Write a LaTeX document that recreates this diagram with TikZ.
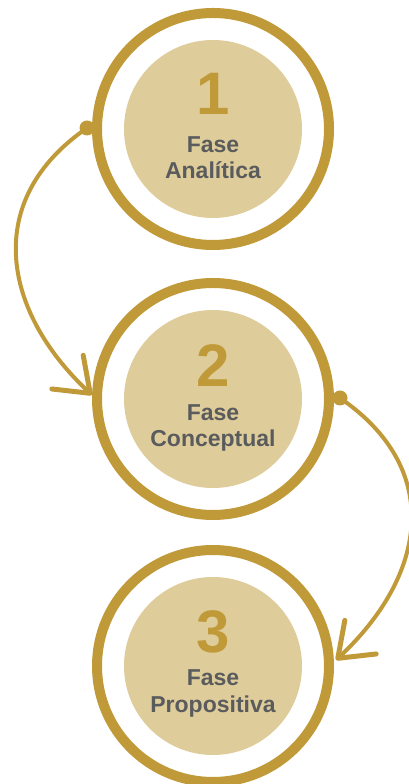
\documentclass[tikz,border=0pt]{standalone}
\usepackage{fontspec}
\setmainfont{Liberation Sans}
\usetikzlibrary{arrows.meta}
\definecolor{gold}{HTML}{C09A38}
\definecolor{beige}{HTML}{DECC9A}
\definecolor{txtgray}{HTML}{5A5B5D}
\tikzset{
  ring/.style={circle, draw=gold, line width=10pt, fill=white, minimum size=232pt, inner sep=0pt},
  disk/.style={circle, fill=beige, minimum size=178pt, inner sep=0pt},
  numtxt/.style={anchor=base, text=gold, font=\bfseries\fontsize{60}{60}\selectfont, inner sep=0pt},
  labtxt/.style={anchor=base, text=txtgray, font=\bfseries\fontsize{23}{26}\selectfont, inner sep=0pt},
  conn/.style={draw=gold, line width=4pt, -{Straight Barb[length=31pt, width=46pt, line width=5pt, round]}},
  dotst/.style={circle, fill=gold, minimum size=15pt, inner sep=0pt}
}
\begin{document}
\begin{tikzpicture}[x=1pt, y=1pt]
\useasboundingbox (0,0) rectangle (408,784);
% circles
\node[ring] (c1) at (213,655) {};
\node[disk] (d1) at (c1.center) {};
\node[ring] (c2) at (213,385) {};
\node[disk] (d2) at (c2.center) {};
\node[ring] (c3) at (213,118) {};
\node[disk] (d3) at (c3.center) {};
% texts
\node[numtxt] (n1) at ([yshift=14pt]c1.center) {1};
\node[labtxt] (a1) at ([yshift=-24pt]c1.center) {Fase};
\node[labtxt] (b1) at ([yshift=-50pt]c1.center) {Analítica};
\node[numtxt] (n2) at ([yshift=12pt]c2.center) {2};
\node[labtxt] (a2) at ([yshift=-22pt]c2.center) {Fase};
\node[labtxt] (b2) at ([yshift=-48pt]c2.center) {Conceptual};
\node[numtxt] (n3) at ([yshift=13pt]c3.center) {3};
\node[labtxt] (a3) at ([yshift=-20pt]c3.center) {Fase};
\node[labtxt] (b3) at ([yshift=-47pt]c3.center) {Propositiva};
% connector endpoints
\coordinate (s1) at ([shift={(-126pt,1pt)}]c1.center);
\coordinate (e1) at ([shift={(-121pt,4pt)}]c2.center);
\coordinate (s2) at ([shift={(127pt,1pt)}]c2.center);
\coordinate (e2) at ([shift={(123pt,6pt)}]c3.center);
% connectors
\draw[conn] (s1) .. controls +(214.5:128) and +(137:122) .. (e1);
\draw[conn] (s2) .. controls +(-34.5:128) and +(43:122) .. (e2);
\node[dotst] (p1) at (s1) {};
\node[dotst] (p2) at (s2) {};
\end{tikzpicture}
\end{document}
